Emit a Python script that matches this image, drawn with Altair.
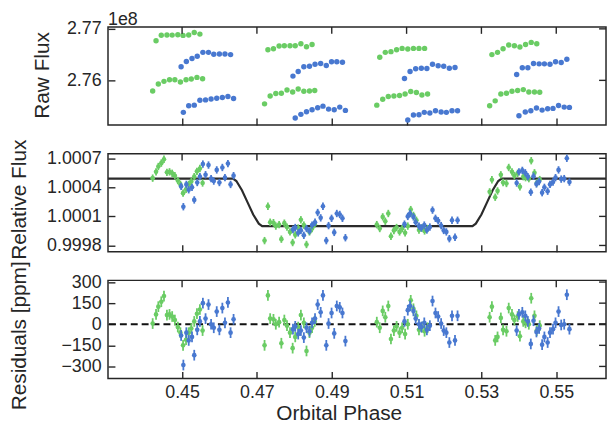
import altair as alt
import numpy as np
import pandas as pd

# ---------------- data ----------------
# Raw flux, units of 1e8; two scan rows ("hi"/"lo") per visit
g_hi_phase = [0.44304, 0.44444, 0.44595, 0.44735, 0.44886, 0.45026, 0.45177, 0.45325, 0.45476,
              0.47294, 0.47442, 0.47593, 0.47733, 0.47884, 0.48024, 0.48175, 0.48325, 0.48474,
              0.50283, 0.50431, 0.50582, 0.50733, 0.50881, 0.51032, 0.51183, 0.51331, 0.51481,
              0.53280, 0.53431, 0.53579, 0.53730, 0.53881, 0.54029, 0.54180, 0.54331, 0.54479]
g_hi_flux = [2.76769, 2.76875, 2.76882, 2.76879, 2.76885, 2.76873, 2.76881, 2.76929, 2.76898,
             2.76596, 2.76615, 2.76667, 2.76673, 2.76673, 2.76673, 2.76712, 2.76654, 2.76698,
             2.76448, 2.76544, 2.76558, 2.76596, 2.76621, 2.76610, 2.76621, 2.76621, 2.76621,
             2.76500, 2.76544, 2.76615, 2.76687, 2.76673, 2.76648, 2.76698, 2.76737, 2.76712]
g_lo_phase = [0.44214, 0.44365, 0.44516, 0.44664, 0.44807, 0.44955, 0.45106, 0.45246, 0.45397, 0.45548,
              0.47204, 0.47354, 0.47505, 0.47653, 0.47804, 0.47955, 0.48103, 0.48254, 0.48405, 0.48545,
              0.50204, 0.50362, 0.50511, 0.50661, 0.50812, 0.50960, 0.51111, 0.51262, 0.51410, 0.51561,
              0.53220, 0.53368, 0.53519, 0.53669, 0.53817, 0.53968, 0.54119, 0.54267, 0.54418, 0.54558]
g_lo_flux = [2.75794, 2.75929, 2.75981, 2.76013, 2.76013, 2.75967, 2.76013, 2.76025, 2.76058, 2.76033,
             2.75544, 2.75698, 2.75744, 2.75750, 2.75813, 2.75775, 2.75833, 2.75788, 2.75794, 2.75802,
             2.75519, 2.75635, 2.75687, 2.75698, 2.75706, 2.75737, 2.75783, 2.75763, 2.75717, 2.75737,
             2.75506, 2.75602, 2.75737, 2.75750, 2.75788, 2.75802, 2.75821, 2.75775, 2.75775, 2.75769]
b_hi_phase = [0.44974, 0.45114, 0.45265, 0.45405, 0.45556, 0.45706, 0.45847, 0.45997, 0.46146, 0.46296,
              0.47963, 0.48103, 0.48254, 0.48405, 0.48553, 0.48704, 0.48854, 0.48995, 0.49135, 0.49286,
              0.50944, 0.51093, 0.51243, 0.51394, 0.51542, 0.51693, 0.51844, 0.51992, 0.52143, 0.52294,
              0.53942, 0.54093, 0.54241, 0.54392, 0.54542, 0.54683, 0.54833, 0.54981, 0.55132, 0.55283]
b_hi_flux = [2.76263, 2.76365, 2.76423, 2.76467, 2.76544, 2.76544, 2.76506, 2.76513, 2.76513, 2.76500,
             2.76083, 2.76173, 2.76263, 2.76275, 2.76313, 2.76327, 2.76288, 2.76360, 2.76360, 2.76352,
             2.76038, 2.76173, 2.76225, 2.76237, 2.76231, 2.76313, 2.76283, 2.76275, 2.76237, 2.76250,
             2.76115, 2.76244, 2.76244, 2.76327, 2.76321, 2.76321, 2.76313, 2.76360, 2.76346, 2.76410]
b_lo_phase = [0.45034, 0.45177, 0.45325, 0.45476, 0.45627, 0.45775, 0.45926, 0.46076, 0.46225, 0.46376,
              0.48024, 0.48175, 0.48325, 0.48474, 0.48624, 0.48765, 0.48915, 0.49066, 0.49214, 0.49365,
              0.51032, 0.51183, 0.51331, 0.51473, 0.51622, 0.51772, 0.51923, 0.52063, 0.52214, 0.52362,
              0.54003, 0.54172, 0.54320, 0.54471, 0.54622, 0.54770, 0.54913, 0.55061, 0.55212, 0.55352]
b_lo_flux = [2.75379, 2.75506, 2.75519, 2.75615, 2.75621, 2.75640, 2.75654, 2.75667, 2.75687, 2.75648,
             2.75269, 2.75340, 2.75390, 2.75429, 2.75467, 2.75500, 2.75442, 2.75429, 2.75481, 2.75417,
             2.75231, 2.75327, 2.75333, 2.75379, 2.75365, 2.75410, 2.75385, 2.75379, 2.75410, 2.75410,
             2.75313, 2.75385, 2.75410, 2.75462, 2.75423, 2.75448, 2.75456, 2.75513, 2.75481, 2.75475]

# Residuals in ppm, in time order of each visit's exposures
res_green = [5, 70, 125, 160, 200, 65, 70, 55, 30, -20, -60, -150, -110, -60, -30, 20, 75, 105, -45,
             -150, 205, 40, 35, 0, 15, -135, 30, -10, -60, -170, -90, -20, 65, 10, -190, -60, -25, 20,
             15, -25, 95, 50, 130, -105, -45, -15, -60, -25, -70, 0, 170, 110, 60, -40, -20, -50, -25,
             50, 125, -115, -90, 45, -40, -50, 115, 70, 30, 55, -85, 20, 10, 0, 185, 60, -45, -10]
res_blue = [-80, -290, -60, -115, -90, -220, -40, 20, 150, 40, 140, 0, -25, 90, -40, 115, 10, 155, -60, 35,
            -35, -15, -70, -45, -95, -25, -50, 10, 40, 140, 85, 205, -150, 5, 80, -65, 130, 120, 80, -120,
            20, 100, 130, 95, 40, 0, -20, 10, -40, -10, 165, 80, 55, 5, -45, -60, -130, 60, -115, 60,
            -45, 70, 85, 60, 20, -140, 25, -55, -30, -145, -90, -130, -60, -35, 10, 90, -5, 0, 210, -35]
err_ppm = 38

# Eclipse model curve
model_phase = [0.4302, 0.4636, 0.4645, 0.4660, 0.4675, 0.4690, 0.4705, 0.4714,
               0.5276, 0.5285, 0.5300, 0.5315, 0.5330, 0.5345, 0.5354, 0.5633]
model_flux = [1.00049, 1.00049, 1.000465, 1.00037, 1.000245, 1.00012, 1.000025, 1.0,
              1.0, 1.000025, 1.00012, 1.000245, 1.00037, 1.000465, 1.00049, 1.00049]

x_ticks = [0.45, 0.47, 0.49, 0.51, 0.53, 0.55]
raw_ticks = [2.76, 2.77]
rel_ticks = [0.9998, 1.0001, 1.0004, 1.0007]
res_ticks = [-300, -150, 0, 150, 300]
offset_label = ["1e8"]
y_titles = ["Raw Flux", "Relative Flux", "Residuals [ppm]"]
x_title = "Orbital Phase"

# ---------------- tables ----------------
raw_g = pd.DataFrame({"phase": g_hi_phase + g_lo_phase, "flux": g_hi_flux + g_lo_flux})
raw_b = pd.DataFrame({"phase": b_hi_phase + b_lo_phase, "flux": b_hi_flux + b_lo_flux})


def detrended(phases, res):
    ph = np.array(sorted(phases))
    r = np.array(res, dtype=float)
    mod = np.interp(ph, model_phase, model_flux)
    rel = mod + r * 1e-6
    return pd.DataFrame({
        "phase": ph, "res": r, "res_lo": r - err_ppm, "res_hi": r + err_ppm,
        "rel": rel, "rel_lo": rel - err_ppm * 1e-6, "rel_hi": rel + err_ppm * 1e-6,
    })


det_g = detrended(g_hi_phase + g_lo_phase, res_green)
det_b = detrended(b_hi_phase + b_lo_phase, res_blue)
model_df = pd.DataFrame({"phase": model_phase, "rel": model_flux})
zero_df = pd.DataFrame({"res": [0]})
xt_df = pd.DataFrame({"t": x_ticks})

# ---------------- styling ----------------
DARK = "#262626"
GREEN = "#6acc64"
BLUE = "#4878d0"
W, H = 503, 99
X_DOMAIN = [0.4302, 0.5633]
FONT = "Liberation Sans"
TICK_FS = 18
TITLE_FS = 21
TK = 7

tick_style = dict(domain=False, ticks=True, tickSize=TK, tickWidth=1.4, tickColor=DARK,
                  offset=-TK, grid=False)


def xscale():
    return alt.Scale(domain=X_DOMAIN, nice=False, zero=False)


def ysc(dom):
    return alt.Scale(domain=dom, nice=False, zero=False)


def ax_x(labelled=False):
    if labelled:
        return alt.Axis(orient="bottom", values=x_ticks, format=".2f", labelPadding=5,
                        labelFontSize=TICK_FS, labelColor=DARK, labelFont=FONT,
                        title=x_title, titleFontSize=TITLE_FS, titleFont=FONT,
                        titleFontWeight="normal", titleColor=DARK, titlePadding=2,
                        titleX=233, **tick_style)
    return alt.Axis(orient="bottom", values=x_ticks, labels=False, title=None, **tick_style)


def ax_y(values, fmt):
    return alt.Axis(orient="left", values=values, format=fmt, labelPadding=7,
                    labelFontSize=TICK_FS, labelColor=DARK, labelFont=FONT,
                    title=None, **tick_style)


def y_title(text, x_px, y_px):
    """Rotated y-axis title placed left of the tick labels."""
    return alt.Chart(pd.DataFrame({"t": [text]})).mark_text(
        angle=270, align="center", baseline="bottom", fontSize=TITLE_FS, font=FONT, color=DARK
    ).encode(text="t:N", x=alt.value(x_px), y=alt.value(y_px))


def build_panel(series, y_dom, y_ticks, x_axis, y_axis, extra_front=(), extra_back=()):
    """series: list of (df, kind, ycol, y2col, color, size)."""
    X = lambda: alt.X("phase:Q", scale=xscale(), axis=x_axis)
    layers = list(extra_front)
    for df, kind, ycol, y2col, color, size in series:
        if kind == "line":
            layers.append(alt.Chart(df).mark_line(color=color, strokeWidth=2.2, clip=True).encode(
                x=X(), y=alt.Y(ycol, scale=ysc(y_dom), axis=y_axis)))
        elif kind == "rule":
            layers.append(alt.Chart(df).mark_rule(color=color, strokeWidth=1.8).encode(
                x=X(), y=alt.Y(ycol, scale=ysc(y_dom), axis=y_axis), y2=y2col))
        else:
            layers.append(alt.Chart(df).mark_circle(size=size, opacity=1, color=color).encode(
                x=X(), y=alt.Y(ycol, scale=ysc(y_dom), axis=y_axis)))
    # inward tick marks on the top and right edges, mirroring the axes
    layers.append(alt.Chart(xt_df).mark_rule(color=DARK, strokeWidth=1.4).encode(
        x=alt.X("t:Q", scale=xscale(), axis=x_axis),
        y=alt.value(0), y2=alt.value(TK)))
    layers.append(alt.Chart(pd.DataFrame({"t": y_ticks})).mark_rule(color=DARK, strokeWidth=1.4).encode(
        y=alt.Y("t:Q", scale=ysc(y_dom), axis=y_axis),
        x=alt.value(W - TK), x2=alt.value(W)))
    layers += list(extra_back)
    return alt.layer(*layers).properties(width=W, height=H)


# ---- panel 1 : raw flux ----
raw_dom = [2.75135, 2.77038]
label_1e8 = alt.Chart(pd.DataFrame({"t": offset_label})).mark_text(
    align="left", baseline="alphabetic", fontSize=TICK_FS, font=FONT, color=DARK
).encode(text="t:N", x=alt.value(0), y=alt.value(-2))
p1 = build_panel(
    [(raw_g, "pt", "flux:Q", None, GREEN, 30), (raw_b, "pt", "flux:Q", None, BLUE, 30)],
    raw_dom, raw_ticks, ax_x(), ax_y(raw_ticks, ".2f"),
    extra_back=[label_1e8, y_title(y_titles[0], -56, 49)],
)

# ---- panel 2 : relative flux ----
rel_dom = [0.999736, 1.000748]
p2 = build_panel(
    [(model_df, "line", "rel:Q", None, "#2b2b2b", 0),
     (det_g, "rule", "rel_lo:Q", "rel_hi:Q", GREEN, 0),
     (det_g, "pt", "rel:Q", None, GREEN, 22),
     (det_b, "rule", "rel_lo:Q", "rel_hi:Q", BLUE, 0),
     (det_b, "pt", "rel:Q", None, BLUE, 22)],
    rel_dom, rel_ticks, ax_x(), ax_y(rel_ticks, ".4f"),
    extra_back=[y_title(y_titles[1], -79, 46.5)],
)

# ---- panel 3 : residuals ----
res_dom = [-385, 312]
res_axis = ax_y(res_ticks, "d")
zero_line = alt.Chart(zero_df).mark_rule(
    color="#111111", strokeWidth=2, strokeDash=[7, 4]
).encode(y=alt.Y("res:Q", scale=ysc(res_dom), axis=res_axis))
p3 = build_panel(
    [(det_g, "rule", "res_lo:Q", "res_hi:Q", GREEN, 0),
     (det_g, "pt", "res:Q", None, GREEN, 22),
     (det_b, "rule", "res_lo:Q", "res_hi:Q", BLUE, 0),
     (det_b, "pt", "res:Q", None, BLUE, 22)],
    res_dom, res_ticks, ax_x(labelled=True), res_axis,
    extra_front=[zero_line],
    extra_back=[y_title(y_titles[2], -79, 56)],
)

chart = alt.vconcat(p1, p2, p3, spacing=29, bounds="flush", padding=0).configure(
    font=FONT
).configure_view(stroke=DARK, strokeWidth=1.5)

chart.save("out.html", embed_options={"renderer": "svg", "actions": False})
